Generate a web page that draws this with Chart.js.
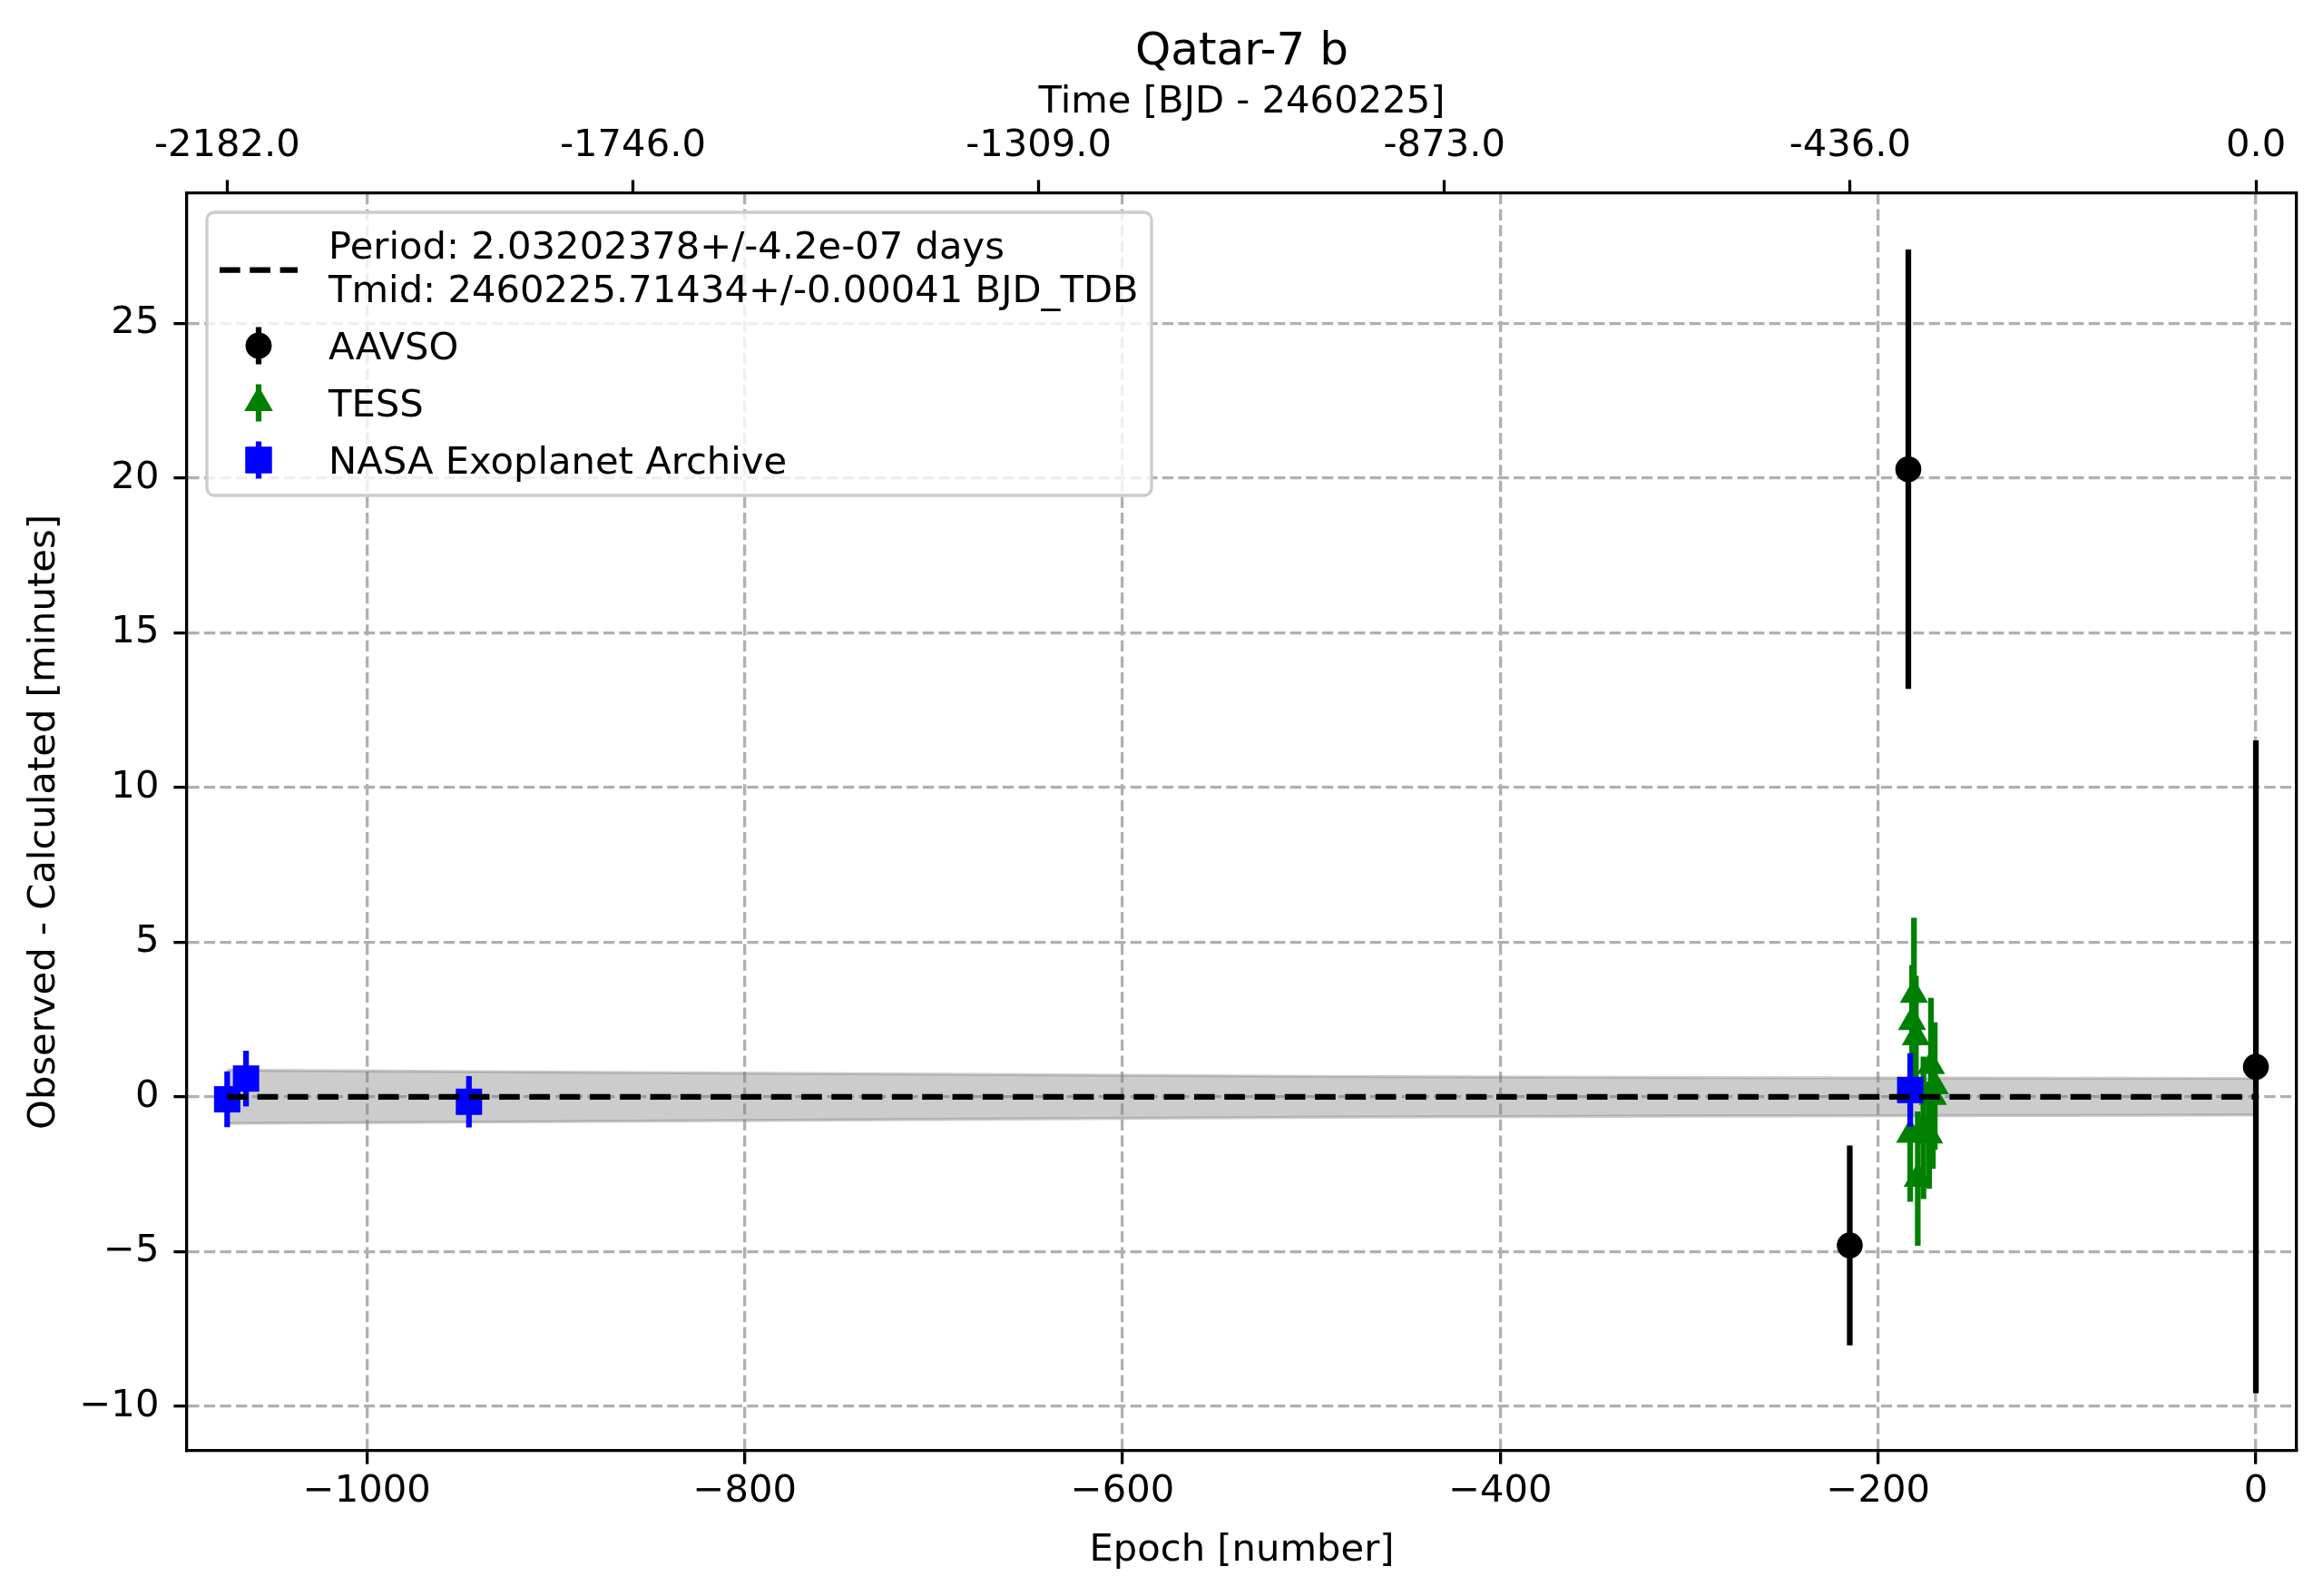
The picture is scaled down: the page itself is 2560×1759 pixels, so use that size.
<!DOCTYPE html>
<html>
<head>
<meta charset="utf-8">
<title>Qatar-7 b O-C</title>
<script src="https://cdn.jsdelivr.net/npm/chart.js@4.4.1/dist/chart.umd.min.js"></script>
<style>
  html, body { margin: 0; padding: 0; background: #fff; }
  canvas { display: block; }
</style>
</head>
<body>
<canvas id="oc-chart" width="2560" height="1759"></canvas>
<script>
// data
const aavsoEpoch = [-215, -184, 0];
const aavsoOC = [-4.8, 20.28, 0.97];
const aavsoErr = [3.23, 7.1, 10.55];

const tessEpoch = [-183, -182, -181, -180, -179, -176, -173, -172, -171, -170];
const tessOC = [-1.22, 2.42, 3.30, 1.93, -2.64, -1.0, -1.24, 1.0, 0.0, 0.35];
const tessErr = [2.17, 1.84, 2.49, 1.98, 2.17, 2.3, 1.73, 2.2, 2.33, 2.06];

const nasaEpoch = [-1074, -1064, -946, -183];
const nasaOC = [-0.08, 0.59, -0.16, 0.22];
const nasaErr = [0.9, 0.9, 0.83, 1.19];

// fit line and its uncertainty band
const fitEpoch = [-1074, 0];
const fitOC = [0, 0];
const bandEpoch = [-1074, -900, -700, -500, -300, -100, 0];
const bandUpper = [0.86, 0.80, 0.73, 0.66, 0.62, 0.60, 0.59];
const bandLower = [-0.86, -0.80, -0.73, -0.66, -0.62, -0.60, -0.59];

// ticks
const xTicks = [-1000, -800, -600, -400, -200, 0];
const yTicks = [-10, -5, 0, 5, 10, 15, 20, 25];
const topTickEpochs = [-1074, -859.2, -644.4, -429.6, -214.8, 0];
const topTickLabels = ['-2182.0', '-1746.0', '-1309.0', '-873.0', '-436.0', '0.0'];

const seriesNames = ['AAVSO', 'TESS', 'NASA Exoplanet Archive'];
const fitLabel = ['Period: 2.03202378+/-4.2e-07 days', 'Tmid: 2460225.71434+/-0.00041 BJD_TDB'];

const toPoints = (xs, ys) => xs.map((v, i) => ({ x: v, y: ys[i] }));
const minus = v => (v < 0 ? '\u2212' + Math.abs(v) : String(v));

const FONT = 41.7;
const LW = 6.25;
const GRID = '#b0b0b0';

Chart.defaults.font.family = '"DejaVu Sans", sans-serif';
Chart.defaults.font.size = FONT;
Chart.defaults.color = '#000';

//error bars, drawn just before each series' markers
const errorBars = {
  id: 'errorBars',
  beforeDatasetDraw(chart, args) {
    const ds = chart.data.datasets[args.index];
    if (!ds.errors) return;
    const { ctx, scales: { x, y } } = chart;
    ctx.save();
    ctx.strokeStyle = ds.backgroundColor;
    ctx.lineWidth = LW;
    ds.data.forEach((p, i) => {
      const px = x.getPixelForValue(p.x);
      ctx.beginPath();
      ctx.moveTo(px, y.getPixelForValue(p.y - ds.errors[i]));
      ctx.lineTo(px, y.getPixelForValue(p.y + ds.errors[i]));
      ctx.stroke();
    });
    ctx.restore();
  }
};

//legend in matplotlib style
const ocLegend = {
  id: 'ocLegend',
  afterDraw(chart) {
    const ctx = chart.ctx;
    ctx.save();
    ctx.beginPath();
    ctx.roundRect(228, 234, 1041, 312, 8);
    ctx.fillStyle = 'rgba(255,255,255,0.8)';
    ctx.fill();
    ctx.strokeStyle = '#cccccc';
    ctx.lineWidth = 3.3;
    ctx.stroke();

    // fit line sample
    ctx.beginPath();
    ctx.setLineDash([22.7, 10.6]);
    ctx.strokeStyle = '#000';
    ctx.lineWidth = LW;
    ctx.moveTo(242, 297.5);
    ctx.lineTo(328, 297.5);
    ctx.stroke();
    ctx.setLineDash([]);

    ctx.font = FONT + 'px "DejaVu Sans"';
    ctx.textBaseline = 'middle';
    ctx.textAlign = 'left';
    ctx.fillStyle = '#000';
    ctx.fillText(fitLabel[0], 362, 274);
    ctx.fillText(fitLabel[1], 362, 322);

    const rows = [381, 444, 507];
    chart.data.datasets.filter(d => d.errors).forEach((d, i) => {
      const cy = rows[i];
      ctx.strokeStyle = d.backgroundColor;
      ctx.lineWidth = LW;
      ctx.beginPath();
      ctx.moveTo(285, cy - 20.5);
      ctx.lineTo(285, cy + 20.5);
      ctx.stroke();
      ctx.fillStyle = d.backgroundColor;
      Chart.helpers.drawPoint(ctx, { pointStyle: d.pointStyle, radius: d.pointRadius, borderWidth: 0, rotation: 0 }, 285, cy);
      ctx.fill();
      ctx.fillStyle = '#000';
      ctx.fillText(d.label, 362, cy + 4);
    });
    ctx.restore();
  }
};

const ctxOC = document.getElementById('oc-chart');

new Chart(ctxOC, {
  type: 'scatter',
  data: {
    datasets: [
      {
        type: 'line',
        label: 'band upper',
        data: toPoints(bandEpoch, bandUpper),
        borderColor: 'rgba(128,128,128,0.4)',
        backgroundColor: 'rgba(128,128,128,0.4)',
        borderWidth: 3.3,
        pointRadius: 0,
        tension: 0,
        fill: '+1',
        order: 6
      },
      {
        type: 'line',
        label: 'band lower',
        data: toPoints(bandEpoch, bandLower),
        borderColor: 'rgba(128,128,128,0.4)',
        borderWidth: 3.3,
        pointRadius: 0,
        tension: 0,
        fill: false,
        order: 5
      },
      {
        label: seriesNames[0],
        data: toPoints(aavsoEpoch, aavsoOC),
        errors: aavsoErr,
        pointStyle: 'circle',
        pointRadius: 14.3,
        backgroundColor: '#000000',
        borderWidth: 0,
        order: 4
      },
      {
        label: seriesNames[1],
        data: toPoints(tessEpoch, tessOC),
        errors: tessErr,
        pointStyle: 'triangle',
        pointRadius: 18,
        backgroundColor: '#008000',
        borderWidth: 0,
        order: 3
      },
      {
        label: seriesNames[2],
        data: toPoints(nasaEpoch, nasaOC),
        errors: nasaErr,
        pointStyle: 'rect',
        pointRadius: 20.5,
        backgroundColor: '#0000ff',
        borderWidth: 0,
        order: 2
      },
      {
        type: 'line',
        label: 'fit',
        data: toPoints(fitEpoch, fitOC),
        borderColor: '#000',
        borderWidth: LW,
        borderDash: [22.7, 10.6],
        pointRadius: 0,
        fill: false,
        order: 1
      }
    ]
  },
  options: {
    responsive: false,
    devicePixelRatio: 1,
    animation: false,
    layout: { padding: 0 },
    plugins: {
      legend: { display: false },
      tooltip: { enabled: false },
      title: {
        display: true,
        text: 'Qatar-7 b',
        fullSize: false,
        color: '#000',
        font: { size: 50, weight: 'normal' },
        padding: { top: 28, bottom: 0 }
      }
    },
    scales: {
      x: {
        type: 'linear',
        position: 'bottom',
        min: -1095.3,
        max: 21.6,
        afterBuildTicks: s => { s.ticks = xTicks.map(v => ({ value: v })); },
        afterFit: s => { s.height = 160; },
        ticks: { callback: v => minus(v), padding: 6, maxRotation: 0, autoSkip: false },
        grid: { color: GRID, lineWidth: 3.3, tickLength: 14.6, tickWidth: 3.3, tickColor: '#000' },
        border: { color: '#000', width: 3.3, dash: [12.3, 5.3] },
        title: { display: true, text: 'Epoch [number]', padding: { top: 0, bottom: 24.5 } }
      },
      x2: {
        type: 'linear',
        position: 'top',
        min: -1095.3,
        max: 21.6,
        afterBuildTicks: s => { s.ticks = topTickEpochs.map(v => ({ value: v })); },
        afterFit: s => { s.height = 125; },
        ticks: { callback: (v, i) => topTickLabels[i], padding: 12, maxRotation: 0, autoSkip: false },
        grid: { drawOnChartArea: false, tickLength: 14.6, tickWidth: 3.3, tickColor: '#000' },
        border: { color: '#000', width: 3.3 },
        title: { display: true, text: 'Time [BJD - 2460225]', padding: { top: 0, bottom: 0 } }
      },
      y: {
        type: 'linear',
        position: 'left',
        min: -11.44,
        max: 29.2,
        afterBuildTicks: s => { s.ticks = yTicks.map(v => ({ value: v })); },
        afterFit: s => { s.width = 206; },
        ticks: { callback: v => minus(v), padding: 16, autoSkip: false },
        grid: { color: GRID, lineWidth: 3.3, tickLength: 14.6, tickWidth: 3.3, tickColor: '#000' },
        border: { color: '#000', width: 3.3, dash: [12.3, 5.3] },
        title: { display: true, text: 'Observed - Calculated [minutes]', padding: { top: 24, bottom: 0 } }
      },
      y2: {
        type: 'linear',
        position: 'right',
        afterFit: s => { s.width = 29; },
        ticks: { display: false },
        grid: { drawOnChartArea: false, drawTicks: false },
        border: { color: '#000', width: 3.3 }
      }
    }
  },
  plugins: [errorBars, ocLegend]
});
</script>
</body>
</html>
